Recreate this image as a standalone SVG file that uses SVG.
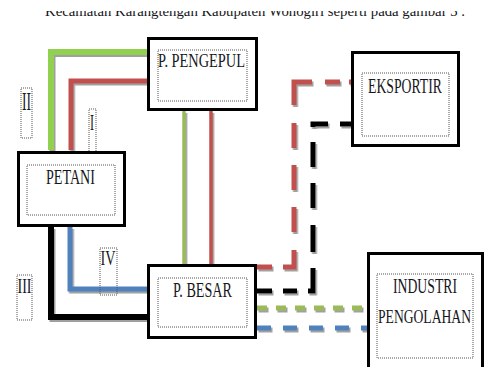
<svg xmlns="http://www.w3.org/2000/svg" width="485" height="367" viewBox="0 0 485 367">
<defs>
<style>
.box{fill:#fff;stroke:#000;stroke-width:3}
.inner{fill:none;stroke:#555;stroke-width:1;stroke-dasharray:1 1}
.lbl{fill:none;stroke:#555;stroke-width:1;stroke-dasharray:1 1}
.t{font-family:"Liberation Serif","Times New Roman",serif;fill:#161620}
.c{fill:none;stroke-linecap:butt;stroke-linejoin:miter}
</style>
<filter id="sh" x="-20%" y="-20%" width="140%" height="140%">
<feDropShadow dx="1.5" dy="2" stdDeviation="0.6" flood-color="#808080" flood-opacity="0.75"/>
</filter>
<clipPath id="topclip"><rect x="0" y="11" width="485" height="20"/></clipPath>
</defs>
<rect width="485" height="367" fill="#fff"/>
<g clip-path="url(#topclip)">
<text class="t" x="45" y="15.5" font-size="14" textLength="420" lengthAdjust="spacingAndGlyphs">Kecamatan Karangtengah Kabupaten Wonogiri seperti pada gambar 3 .</text>
</g>
<g id="connectors" filter="url(#sh)">
<path class="c" d="M148,52 H51 V150" stroke="#92d050" stroke-width="6"/>
<path class="c" d="M148,81 H71 V150" stroke="#c0504d" stroke-width="5"/>
<path class="c" d="M184,111 V264" stroke="#9bbb59" stroke-width="3.5"/>
<path class="c" d="M211,111 V264" stroke="#c0504d" stroke-width="3.5"/>
<path class="c" d="M70,227 V289 H148" stroke="#4f81bd" stroke-width="5"/>
<path class="c" d="M51,227 V317 H148" stroke="#000" stroke-width="6"/>
<path class="c" d="M257,267 H294 V82 H351" stroke="#c0504d" stroke-width="5" stroke-dasharray="15 11 28 18 25 17 25 17 25 18 41 13 15 9 2"/>
<path class="c" d="M257,291 H313 V124 H351" stroke="#000" stroke-width="5" stroke-dasharray="15 11 14 11 28 16 27 17 25 16 25 15 18 12 11"/>
<path class="c" d="M257,308 H367" stroke="#9bbb59" stroke-width="5" stroke-dasharray="10 9"/>
<path class="c" d="M257,328 H367" stroke="#4f81bd" stroke-width="5" stroke-dasharray="14 12"/>
</g>
<g id="label-II">
<rect class="lbl" x="21" y="88" width="11" height="50"/>
<text class="t" x="22" y="110" font-size="26" textLength="9" lengthAdjust="spacingAndGlyphs">II</text>
</g>
<g id="label-I">
<rect class="lbl" x="89" y="109" width="7" height="49"/>
<text class="t" x="90" y="130" font-size="24" textLength="4" lengthAdjust="spacingAndGlyphs">I</text>
</g>
<g id="label-III">
<rect class="lbl" x="17" y="275" width="15" height="45"/>
<text class="t" x="17.5" y="293" font-size="22" textLength="14" lengthAdjust="spacingAndGlyphs">III</text>
</g>
<g id="label-IV">
<rect class="lbl" x="100" y="248" width="17" height="47"/>
<text class="t" x="100.5" y="265" font-size="22" textLength="15" lengthAdjust="spacingAndGlyphs">IV</text>
</g>
<g id="node-pengepul">
<rect class="box" x="148.5" y="38.5" width="108" height="71"/>
<rect class="inner" x="158" y="50" width="89" height="51"/>
<text class="t" x="158" y="67" font-size="19" textLength="87" lengthAdjust="spacingAndGlyphs">P. PENGEPUL</text>
</g>
<g id="node-petani">
<rect class="box" x="18.5" y="152.5" width="106" height="73"/>
<rect class="inner" x="27" y="165" width="88" height="50"/>
<text class="t" x="46" y="184" font-size="21" textLength="49" lengthAdjust="spacingAndGlyphs">PETANI</text>
</g>
<g id="node-besar">
<rect class="box" x="148.5" y="265.5" width="107" height="72"/>
<rect class="inner" x="158" y="278" width="89" height="49"/>
<text class="t" x="173" y="297" font-size="21" textLength="59" lengthAdjust="spacingAndGlyphs">P. BESAR</text>
</g>
<g id="node-eksportir">
<rect class="box" x="352.5" y="52.5" width="106" height="93"/>
<rect class="inner" x="362" y="73" width="87" height="63"/>
<text class="t" x="368" y="93" font-size="20" textLength="74" lengthAdjust="spacingAndGlyphs">EKSPORTIR</text>
</g>
<g id="node-industri">
<rect class="box" x="368.5" y="253.5" width="114" height="130"/>
<rect class="inner" x="377" y="274" width="96" height="84"/>
<text class="t" x="393" y="293" font-size="20" textLength="64" lengthAdjust="spacingAndGlyphs">INDUSTRI</text>
<text class="t" x="378" y="323" font-size="19" textLength="93" lengthAdjust="spacingAndGlyphs">PENGOLAHAN</text>
</g>
</svg>
